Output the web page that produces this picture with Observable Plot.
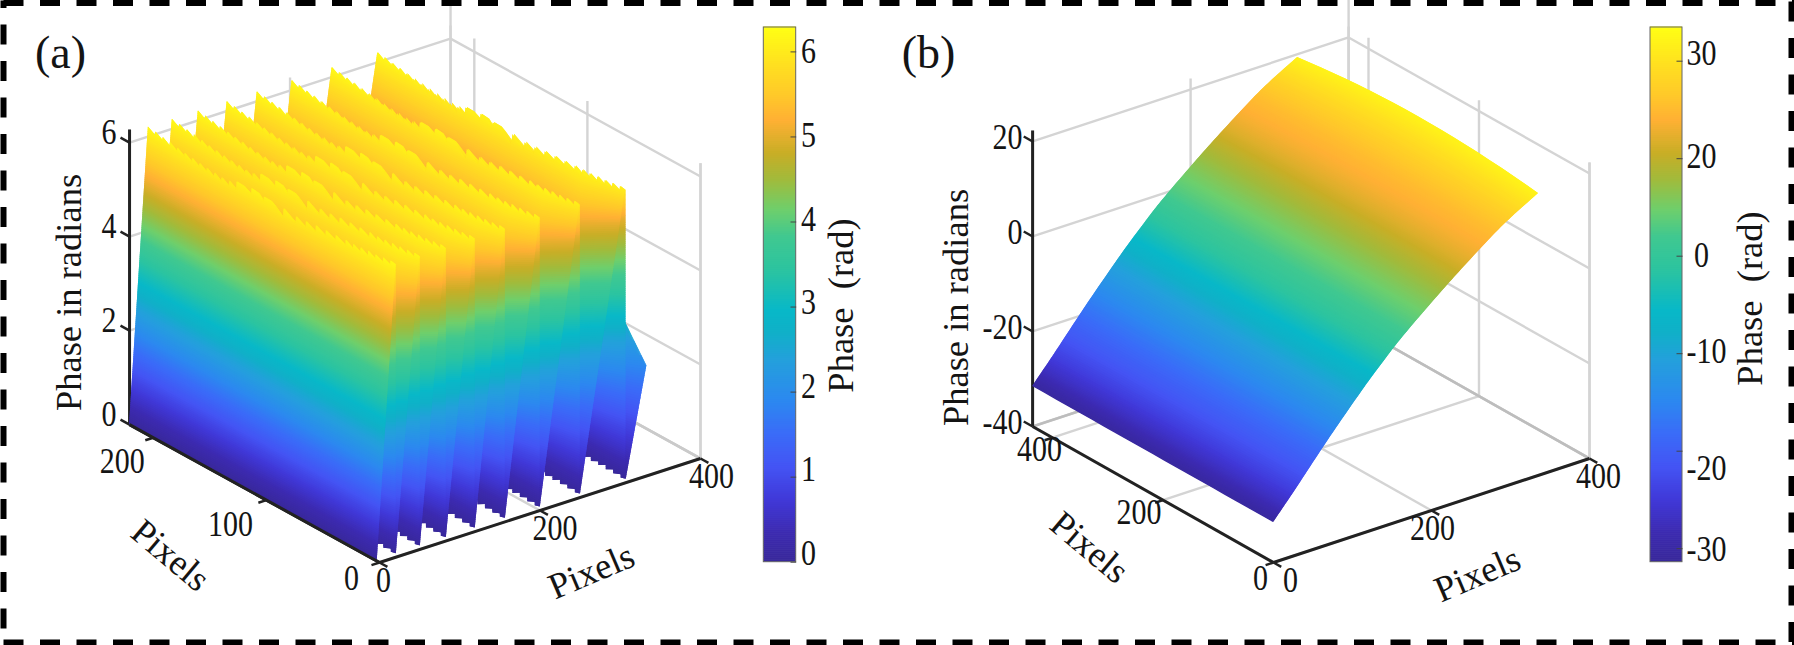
<!DOCTYPE html>
<html>
<head>
<meta charset="utf-8">
<style>html,body{margin:0;padding:0;background:#fff}svg{display:block}</style>
<script src="https://cdn.jsdelivr.net/npm/d3@7"></script>
<script src="https://cdn.jsdelivr.net/npm/@observablehq/plot@0.6"></script>
</head>
<body>
<div id="chart"></div>
<script>
// ---------- colour bar ----------
const colorStopT = [0, .054, .116, .177, .24, .30, .377, .428, .47, .546, .608, .658, .714, .764, .826, .87, .93, 1];
const colorStops = ["#38289a","#3c2ab0","#4038d8","#4454f4","#3a6cf8","#2c88f0","#24a0dc","#10b0c8","#08b8c8","#2cc4a0","#40c890","#6ecf6c","#a0bb3c","#c8ae26","#ffb034","#ffc82a","#ffe020","#ffff14"];

// ---------- panel (a): wrapped phase ----------
const xTicksA = [0, 200, 400];
const yTicksA = [0, 100, 200];
const zTicksA = [0, 2, 4, 6];
const barTicksA = [0, 1, 2, 3, 4, 5, 6];
// x (pixels) where each wrapped sheet starts along the y=0 edge
const wallStartX = [0, 23.7, 53.6, 86, 122, 159.5, 203, 253, 310, 381];
const lastWallEndX = 336;
const lastWallEndPhase = 2.3;
// crest and foot of a sheet, from the far end (0) to the near end (1)
const edgePos = [0,.03,.03,.06,.06,.09,.09,.12,.12,.15,.15,.18,.18,.21,.21,.24,.24,.27,.27,.30,.30,.33,.33,.36,.36,.39,.42,.42,.45,.47,.47,.50,.52,.55,.55,.60,.60,.64,.64,.68,.68,.72,.72,.76,.76,.80,.80,.83,.83,.86,.86,.89,.89,.92,.92,.95,.95,.98,.98,1];
const crestDrop = [.08,.18,.1,.2,.13,.23,.15,.26,.18,.28,.2,.31,.22,.33,.24,.35,.26,.37,.27,.38,.28,.39,.27,.37,.2,.21,.3,.17,.19,.3,.2,.21,.28,.42,.22,.38,.24,.36,.23,.34,.2,.31,.19,.29,.18,.28,.16,.26,.16,.25,.15,.24,.13,.22,.12,.2,.1,.17,.08,.1];
const footRise = [.02,.07,.02,.08,.02,.07,.02,.08,.02,.07,.02,.08,.02,.07,.02,.08,.02,.07,.02,.08,.02,.07,.02,.08,.02,.05,.07,.02,.05,.07,.02,.05,.07,.08,.02,.08,.02,.08,.02,.08,.02,.08,.02,.08,.02,.07,.0,.08,.0,.09,.0,.08,.0,.09,.0,.08,.0,.07,.0,.03];
// how far the phase contours bend towards the x direction near the y=0 edge
const bendPhase = [0, .6, 1.6, 2.4, 5, 6.28];
const bendWeight = [0, .15, .6, 1, 1, .2];

// ---------- panel (b): unwrapped phase ----------
const xTicksB = [0, 200, 400];
const yTicksB = [0, 200, 400];
const zTicksB = [-40, -20, 0, 20];
const barTickLabelsB = ["-30","-20","-10","0","20","30"];
const barTicksB = [-30, -18, -6, 6, 18, 30];
const barLabelPosB = [-30.3, -20.4, -6, 5.9, 18, 30.7];
// surface profile across x
const profileX = [0, 26.6, 69.6, 111.4, 140.5, 165.8, 208.9, 250.6, 292.4, 335.4];
const profileZ = [-31.6, -26.5, -18, -10.2, -5.2, -1.2, 4.8, 10.2, 15.2, 19.3];
const profilePhase = [-30.9, -23, -13.8, -4.6, 2.6, 7.9, 14.5, 21, 25.6, 32.5];
const profileBow = [0, 0, 0, 0, 0, .1, .2, .4, .8, 1.9];

// ---------- projections of the two 3-D boxes ----------
const A = {O:[379,562], X:[.8025,-.26], Y:[-1.131,-.624], Zs:47,   z0:0,   xMax:400, yMax:221, zMax:6.28, xt:-7,  yt:-10, zt:8,
           xTicks:xTicksA, yTicks:yTicksA, zTicks:zTicksA};
const B = {O:[1273,562],X:[.79,-.26],  Y:[-.5525,-.312],Zs:4.75, z0:-40, xMax:400, yMax:436, zMax:22.3, xt:-14, yt:-10, zt:16,
           xTicks:xTicksB, yTicks:yTicksB, zTicks:zTicksB};
const pr = (P,x,y,z) => [P.O[0]+P.X[0]*x+P.Y[0]*y, P.O[1]+P.X[1]*x+P.Y[1]*y-P.Zs*(z-P.z0)];
const seg = (P,a,b) => { const p=pr(P,...a), q=pr(P,...b); return {x1:p[0],y1:p[1],x2:q[0],y2:q[1]}; };

function gridLines(P){
  const out=[];
  for(const z of P.zTicks){ out.push(seg(P,[0,P.yMax,z],[P.xMax,P.yMax,z])); out.push(seg(P,[P.xMax,0,z],[P.xMax,P.yMax,z])); }
  for(const x of P.xTicks){ out.push(seg(P,[x,P.yMax,P.z0],[x,P.yMax,P.zMax])); out.push(seg(P,[x,0,P.z0],[x,P.yMax,P.z0])); }
  for(const y of P.yTicks){ out.push(seg(P,[P.xMax,y,P.z0],[P.xMax,y,P.zMax])); out.push(seg(P,[0,y,P.z0],[P.xMax,y,P.z0])); }
  out.push(seg(P,[P.xMax,P.yMax,P.z0],[P.xMax,P.yMax,P.zMax+.6*(P.zMax-P.z0)/6.28]));
  out.push(seg(P,[P.xMax,0,P.z0],[P.xMax,0,P.zMax]));
  return out;
}
const boxEdges = P => [seg(P,[0,P.yMax,P.z0],[P.xMax,P.yMax,P.z0]), seg(P,[P.xMax,0,P.z0],[P.xMax,P.yMax,P.z0])];
const axisLines = P => [seg(P,[0,0,P.z0],[P.xMax,0,P.z0]), seg(P,[0,0,P.z0],[0,P.yMax,P.z0]), seg(P,[0,P.yMax,P.z0],[0,P.yMax,P.zMax])];
const axisTicks = P => [
  ...P.xTicks.map(x=>seg(P,[x,0,P.z0],[x,P.xt,P.z0])),
  ...P.yTicks.map(y=>seg(P,[0,y,P.z0],[P.yt,y,P.z0])),
  ...P.zTicks.map(z=>seg(P,[0,P.yMax,z],[0,P.yMax+P.zt,z]))];

// ---------- mesh of panel (a): colour strips of the sawtooth sheets ----------
const TWO_PI = 6.28, Y_FAR = 221, Y_NEAR = 2, DZ = .04;
const bendScale = d3.scaleLinear(bendPhase, bendWeight);
const meshA = [];
let band = 0;
function addFace(xAt, limit, foot, p0){
  for(let zl=0; zl<TWO_PI; zl+=DZ){
    const zh = zl+DZ*1.8; band++;
    const t = (zl+DZ/2)/6.287;
    edgePos.forEach((p,i)=>{
      const lim = limit(p,i), ft = foot(i);
      const sh = p>p0 ? 2.87*(p-p0) : 0;
      const zA = zl+sh*bendScale(zl), zB = zh+sh*bendScale(zh);
      const z1 = Math.min(Math.max(zA,ft),lim), z2 = Math.min(Math.max(zB,ft),lim);
      const y = Y_FAR+(Y_NEAR-Y_FAR)*p;
      const a = pr(A,xAt(z1),y,z1), b = pr(A,xAt(z2),y,z2);
      meshA.push({id:band,t,x1:a[0],y1:a[1],x2:b[0],y2:b[1]});
    });
  }
}
const crestLimit = (p,i)=>TWO_PI-crestDrop[i];
for(let k=wallStartX.length-2; k>=0; k--){
  const a = wallStartX[k], b = wallStartX[k+1];
  const foot = k===0 ? (()=>0) : (i=>footRise[i]);
  const p0 = k===0 ? 2 : 1-(a-wallStartX[k-1])*.8025/244;
  const p1 = 1-(b-a)*.8025/244;
  if(k===wallStartX.length-2){
    addFace(z=>Math.min(a+(b-a)*z/TWO_PI,lastWallEndX), p=>Math.min(lastWallEndPhase+(1-p)*7.8,5.5), foot, p0);
  } else {
    addFace(()=>b, crestLimit, i=>footRise[i], p1);   // vertical drop at the end of the sheet
    addFace(z=>a+(b-a)*z/TWO_PI, crestLimit, foot, p0);  // the rising sheet
  }
}

// ---------- mesh of panel (b) ----------
const meshB = [];
const barMinB = -31.6, barMaxB = 34.2;
const ySamples = d3.range(0,1.0001,.05);
const smooth = (a,u) => { // Catmull-Rom through the read rows, for the mesh only
  const n=a.length-1, r=Math.min(Math.floor(u),n-1), f=u-r;
  const p0=a[Math.max(r-1,0)],p1=a[r],p2=a[r+1],p3=a[Math.min(r+2,n)];
  return .5*((2*p1)+(p2-p0)*f+(2*p0-5*p1+4*p2-p3)*f*f+(3*p1-p0-3*p2+p3)*f*f*f);
};
const SUB=28, NR=(profileX.length-1)*SUB;
for(let j=0;j<NR;j++){
  band++;
  const u0=j/SUB, u1=Math.min((j+2)/SUB,profileX.length-1);
  const t=(smooth(profilePhase,(j+.5)/SUB)-barMinB)/(barMaxB-barMinB);
  for(const s of ySamples){
    const y=B.yMax*s, bump=4*s*(1-s);
    const a=pr(B,smooth(profileX,u0),y,smooth(profileZ,u0)+bump*smooth(profileBow,u0));
    const b=pr(B,smooth(profileX,u1),y,smooth(profileZ,u1)+bump*smooth(profileBow,u1));
    meshB.push({id:band,t,x1:a[0],y1:a[1],x2:b[0],y2:b[1]});
  }
}

// ---------- colour bars ----------
const barTop=27, barBottom=561.7;
const bars=[]; for(let i=0;i<267;i++) bars.push({i,t:(i+.5)/267});
const barRects=(x1,x2)=>bars.map(d=>({t:d.t,x1,x2,y1:barBottom+(barTop-barBottom)*d.i/267,y2:barBottom+(barTop-barBottom)*(d.i+1.3)/267}));
const yBarA=v=>561.7-85.05*v;
const yBarB=v=>60.7+(30-v)*97.5/12;

const txt=(data,o)=>Plot.text(data,{x:"x",y:"y",text:"s",fontFamily:"Liberation Serif",fill:"#141414",lineAnchor:"middle",...o});
const lab=(s,x,y)=>({s,x,y});
const TICK=30, TITLE=36.5;

function tickLabels(P,oy,special){
  return [
    ...P.xTicks.map((v,i)=>{const p=pr(P,v,0,P.z0);return lab(String(v),p[0]+special.x[i],p[1]+oy[0]);}),
    ...P.yTicks.map((v,i)=>{const p=pr(P,0,v,P.z0);return lab(String(v),p[0]+special.y[i],p[1]+oy[1+(i>0?1:0)]);}),
  ];
}
const labelsA = tickLabels(A,[20,18,26],{x:[4,15,11],y:[-28,-36,-31]});
const labelsB = tickLabels(B,[20,18,14],{x:[17,1,9],y:[-13,-24,-13]});
const zLabelsA = zTicksA.map(v=>lab(String(v),116,pr(A,0,A.yMax,v)[1]-8));
const zLabelsB = zTicksB.map(v=>lab(String(v),1022,pr(B,0,B.yMax,v)[1]-2));

const side=(a,b,off)=>Plot.link([{x1:a[0],y1:a[1],x2:b[0],y2:b[1]}],{x1:"x1",y1:"y1",x2:"x2",y2:"y2",stroke:"#000",strokeWidth:6,strokeDasharray:"20 16.5",strokeDashoffset:off});
const lnk=(d,o)=>Plot.link(d,{x1:"x1",y1:"y1",x2:"x2",y2:"y2",...o});
const surf=d=>Plot.area(d,{x1:"x1",y1:"y1",x2:"x2",y2:"y2",z:"id",fill:"t",curve:"linear"});

const chart = Plot.plot({
  width:1794, height:645, margin:0,
  x:{domain:[0,1794],range:[0,1794],axis:null},
  y:{domain:[0,645],range:[0,645],axis:null},
  color:{type:"linear",domain:colorStopT,range:colorStops,clamp:true},
  style:{background:"#fff"},
  marks:[
    // grids
    lnk(gridLines(A),{stroke:"#d4d4d4",strokeWidth:2.4}),
    lnk(gridLines(B),{stroke:"#d4d4d4",strokeWidth:2.4}),
    lnk(boxEdges(A),{stroke:"#cacaca",strokeWidth:2.6}),
    lnk(boxEdges(B),{stroke:"#bdbdbd",strokeWidth:2.6}),
    // axes
    lnk(axisLines(A),{stroke:"#222",strokeWidth:3}),
    lnk(axisLines(B),{stroke:"#222",strokeWidth:3}),
    lnk(axisTicks(A),{stroke:"#222",strokeWidth:2.5}),
    lnk(axisTicks(B),{stroke:"#222",strokeWidth:2.5}),
    // surfaces
    surf(meshA),
    surf(meshB),
    // axis line in front of the surface foot
    lnk([seg(A,[0,0,0],[0,A.yMax,0])],{stroke:"#222",strokeWidth:3}),
    // colour bars
    Plot.rect(barRects(763.3,795.7),{x1:"x1",x2:"x2",y1:"y1",y2:"y2",fill:"t"}),
    Plot.rect(barRects(1650,1682),{x1:"x1",x2:"x2",y1:"y1",y2:"y2",fill:"t"}),
    Plot.rect([{x1:763.3,x2:795.7,y1:barTop,y2:barBottom},{x1:1650,x2:1682,y1:barTop,y2:barBottom}],{x1:"x1",x2:"x2",y1:"y1",y2:"y2",fill:"none",stroke:"#666",strokeWidth:1}),
    lnk(barTicksA.map(v=>({x1:790,x2:795.7,y1:yBarA(v),y2:yBarA(v)})),{stroke:"#444",strokeWidth:1}),
    lnk(barTicksB.map(v=>({x1:1676,x2:1682,y1:yBarB(v),y2:yBarB(v)})),{stroke:"#444",strokeWidth:1}),
    txt(barTicksA.map(v=>lab(String(v),808,yBarA(v)+2-(6-v)*1.45)),{fontSize:TICK,textAnchor:"middle",className:"tk"}),
    txt(barTickLabelsB.map((s,i)=>lab(s,s[0]==="-"?1706:1701,yBarB(barLabelPosB[i]))),{fontSize:TICK,textAnchor:"middle",className:"tk"}),
    // tick labels
    txt([...labelsA,...labelsB],{fontSize:TICK,textAnchor:"middle",className:"tk"}),
    txt(zLabelsA,{fontSize:TICK,textAnchor:"end",className:"tk"}),
    txt(zLabelsB,{fontSize:TICK,textAnchor:"end",className:"tk"}),
    // titles
    txt([lab("(a)",60,53)],{fontSize:46,textAnchor:"middle"}),
    txt([lab("(b)",928,53)],{fontSize:46,textAnchor:"middle"}),
    txt([lab("Phase in radians",69,292),lab("Phase in radians",956,307),lab("Phase\u00a0\u00a0(rad)",841,305),lab("Phase\u00a0\u00a0(rad)",1750,298)],{fontSize:TITLE,rotate:-90,textAnchor:"middle"}),
    txt([lab("Pixels",170,555),lab("Pixels",1089,547)],{fontSize:TITLE,rotate:40,textAnchor:"middle"}),
    txt([lab("Pixels",591,571),lab("Pixels",1477,574)],{fontSize:TITLE,rotate:-23,textAnchor:"middle"}),
    // dashed border
    side([0,2.5],[1794,2.5],-3),
    side([0,642],[1794,642],-3),
    side([3,0],[3,645],-24),
    side([1791,0],[1791,645],-1)
  ]
});
document.getElementById("chart").append(chart);
// the tick labels of the reference are drawn a little taller than wide
chart.querySelectorAll(".tk text").forEach(t=>{
  const tr=t.getAttribute("transform");
  const m=tr&&tr.match(/translate\(([-\d.]+),\s*([-\d.]+)\)/);
  if(m) t.setAttribute("transform",`translate(${+m[1]},${+m[2]-2}) scale(1,1.2)`);
});
</script>
</body>
</html>
